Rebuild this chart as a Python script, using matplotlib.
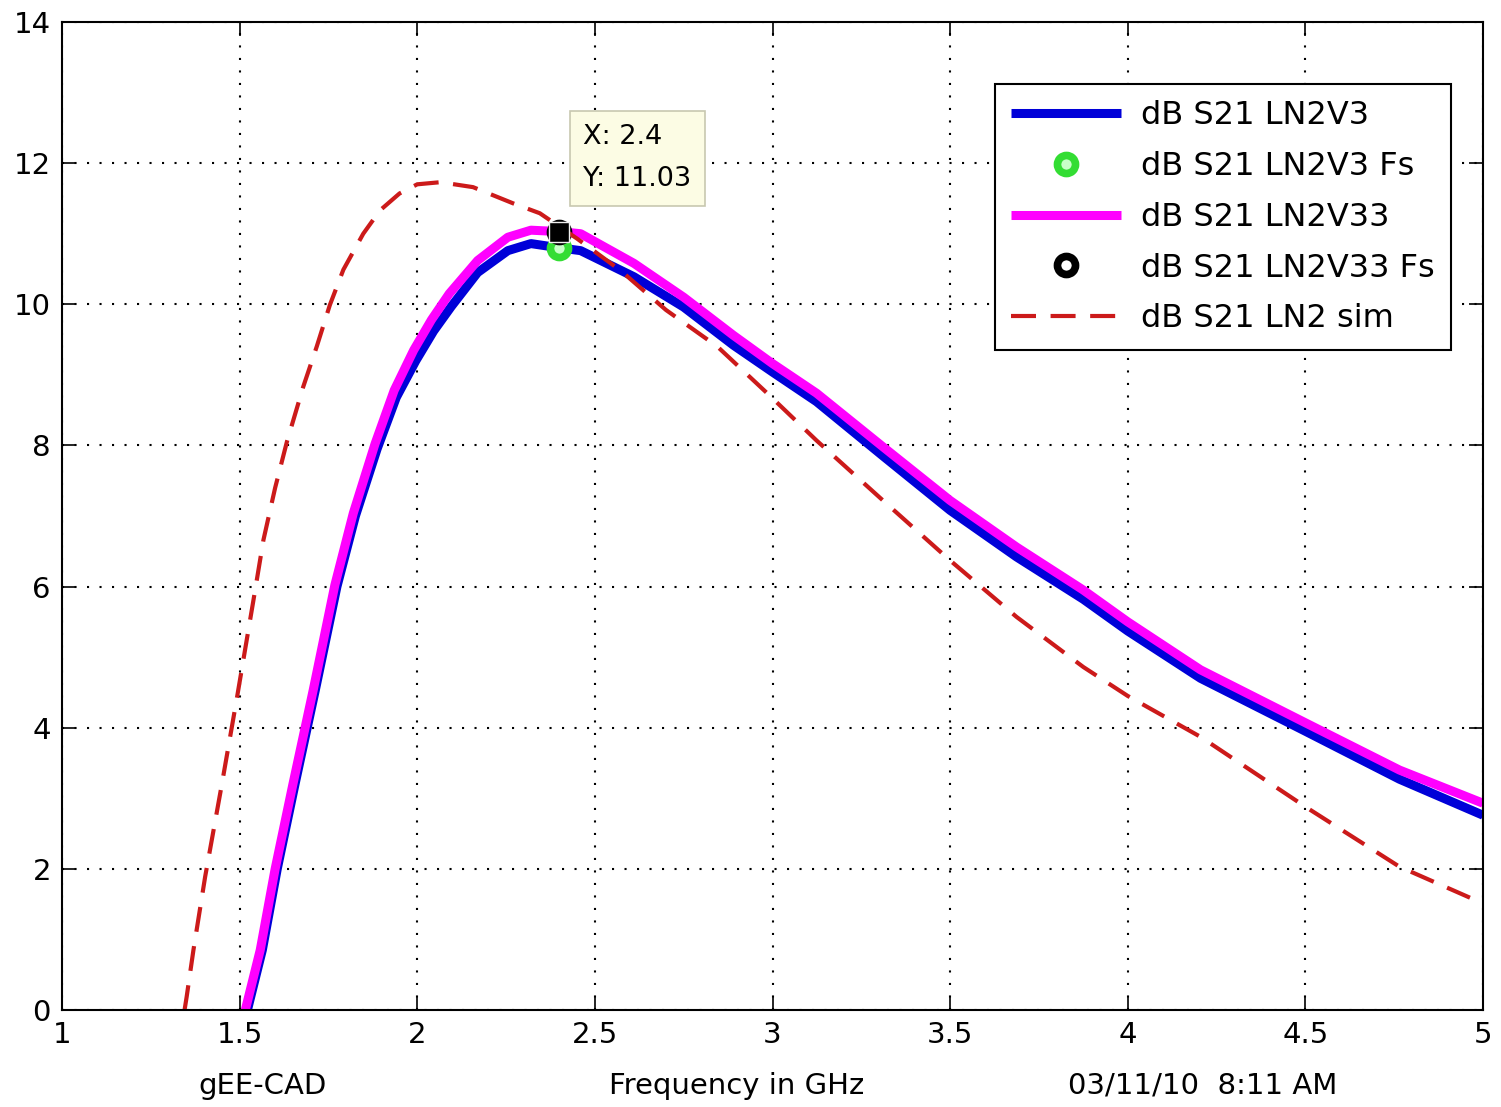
import matplotlib
matplotlib.use('Agg')
import matplotlib.pyplot as plt
import numpy as np

plt.rcParams.update({'font.size': 21, 'font.family': ['DejaVu Sans']})

# measured S21, LN2V3 board
f_v3 = [1.522, 1.564, 1.606, 1.656, 1.713, 1.774, 1.826, 1.887, 1.941, 1.996, 2.046, 2.096,
        2.17, 2.255, 2.32, 2.4, 2.46, 2.61, 2.75, 2.89, 3.0, 3.124, 3.311, 3.5,
        3.687, 3.875, 4.0, 4.205, 4.5, 4.765, 5.0]
s21_v3 = [0.0, 0.85, 2.0, 3.2, 4.53, 6.0, 7.0, 7.95, 8.68, 9.2, 9.62, 9.97,
          10.45, 10.76, 10.86, 10.80, 10.76, 10.39, 9.96, 9.42, 9.04, 8.62, 7.85, 7.08,
          6.42, 5.82, 5.37, 4.70, 3.95, 3.27, 2.76]

# measured S21, LN2V33 board
f_v33 = [1.516, 1.558, 1.60, 1.65, 1.707, 1.768, 1.82, 1.881, 1.935, 1.99, 2.04, 2.09,
         2.17, 2.255, 2.32, 2.4, 2.46, 2.61, 2.75, 2.89, 3.0, 3.124, 3.311, 3.5,
         3.687, 3.875, 4.0, 4.205, 4.5, 4.765, 5.0]
s21_v33 = [0.0, 0.85, 2.0, 3.2, 4.53, 6.02, 7.04, 8.02, 8.78, 9.35, 9.78, 10.15,
           10.62, 10.95, 11.05, 11.03, 11.0, 10.58, 10.10, 9.56, 9.16, 8.74, 7.98, 7.22,
           6.56, 5.95, 5.50, 4.82, 4.07, 3.40, 2.93]

# simulated S21
f_sim = [1.345, 1.351, 1.37, 1.403, 1.45, 1.493, 1.539, 1.567, 1.60, 1.633, 1.679, 1.717,
         1.754, 1.792, 1.848, 1.895, 1.95, 2.0, 2.065, 2.157, 2.27, 2.345, 2.45, 2.572, 2.70,
         2.845, 2.985, 3.124, 3.311, 3.5, 3.687, 3.875, 4.0, 4.205, 4.5, 4.765, 5.0]
s21_sim = [0.0, 0.19, 0.85, 1.89, 3.2, 4.44, 5.81, 6.66, 7.4, 8.05, 8.83, 9.40,
           9.99, 10.49, 11.0, 11.33, 11.57, 11.70, 11.73, 11.66, 11.43, 11.29, 10.93, 10.48, 9.92,
           9.40, 8.74, 8.07, 7.22, 6.37, 5.57, 4.86, 4.45, 3.87, 2.88, 2.03, 1.51]

f_s = 2.4  # frequency of interest
i_v3 = f_v3.index(f_s)
i_v33 = f_v33.index(f_s)

fig = plt.figure(figsize=(15.01, 11.07), dpi=100)
ax = fig.add_axes([62 / 1501, 1 - 1010 / 1107, 1421 / 1501, 988 / 1107])

ax.plot(f_v3, s21_v3, color='#0000d8', lw=6.5, solid_capstyle='butt', label='dB S21 LN2V3')
ax.plot(f_s, s21_v3[i_v3], 'o', ms=13, mew=5.5, mec='#33dd33', mfc='#c8ffc8',
        label='dB S21 LN2V3 Fs')
ax.plot(f_v33, s21_v33, color='#ff00ff', lw=6.5, solid_capstyle='butt', label='dB S21 LN2V33')
ax.plot(f_s, s21_v33[i_v33], 'o', ms=13, mew=5.5, mec='black', mfc='white',
        label='dB S21 LN2V33 Fs')
ax.plot(f_sim, s21_sim, color='#cc1a1a', lw=3, dashes=(6, 3.5), label='dB S21 LN2 sim')

# data tip on the LN2V33 trace
ax.plot(f_s, s21_v33[i_v33], 's', ms=14, color='black', mec='#f0f0f0', mew=1, zorder=6)
ax.text(2.467, 12.55, f'X: {f_s:g}\nY: {s21_v33[i_v33]:.2f}', ha='left', va='top',
        fontsize=19.5, linespacing=1.8, zorder=7,
        bbox=dict(boxstyle='square,pad=0.5', fc='#fcfce4', ec='#c8c8b0', lw=1.2))

ax.set_xlim(1, 5)
ax.set_ylim(0, 14)
ax.set_xticks(np.arange(1, 5.01, 0.5))
ax.set_xticklabels(['1', '1.5', '2', '2.5', '3', '3.5', '4', '4.5', '5'])
ax.set_yticks(np.arange(0, 14.1, 2))
ax.tick_params(direction='in', length=10, width=1.2, top=True, right=True, pad=8)
ax.grid(True, color='black', linestyle=(0, (1, 5)), lw=1.5)
for s in ax.spines.values():
    s.set_linewidth(1.5)

leg = ax.legend(loc='upper right', bbox_to_anchor=(0.9775, 0.937), borderaxespad=0,
                fancybox=False, framealpha=1, edgecolor='black', fontsize=23,
                handlelength=3.45, borderpad=0.5, labelspacing=0.62, handletextpad=0.63)
leg.get_frame().set_linewidth(1.5)

fig.text(263 / 1501, 1 - 1086 / 1107, 'gEE-CAD', ha='center', va='center', fontsize=21)
fig.text(737 / 1501, 1 - 1086 / 1107, 'Frequency in GHz', ha='center', va='center', fontsize=21)
fig.text(1203 / 1501, 1 - 1086 / 1107, '03/11/10  8:11 AM', ha='center', va='center', fontsize=21)

fig.savefig('out.png', dpi=100)
